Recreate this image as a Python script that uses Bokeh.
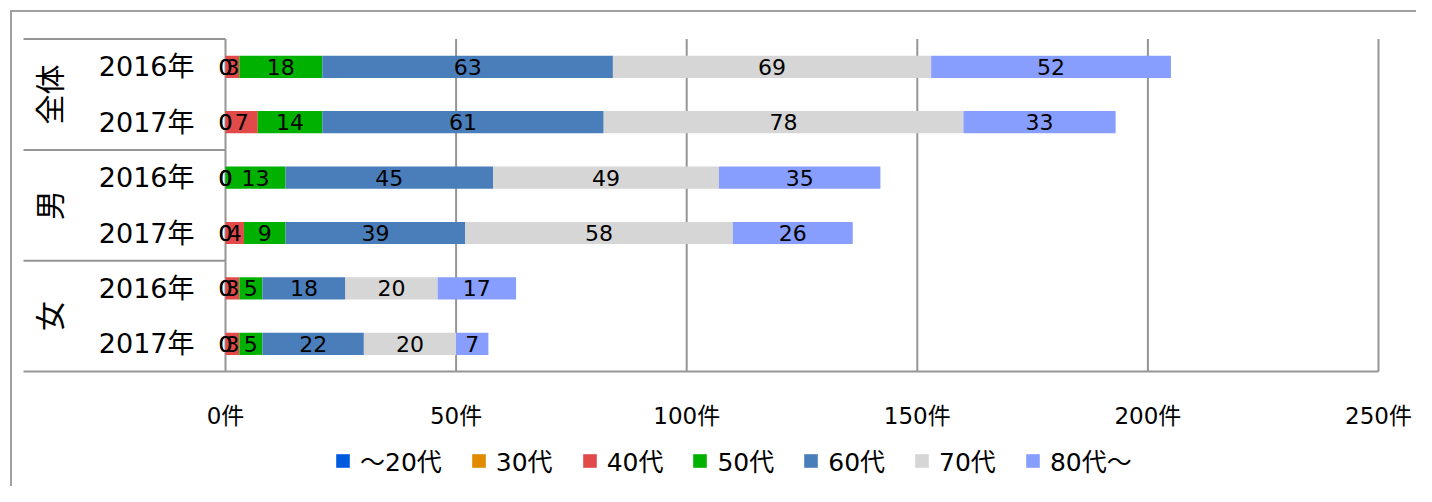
import numpy as np
from bokeh.plotting import figure
from bokeh.models import (ColumnDataSource, Range1d, LinearAxis, FixedTicker,
                          PrintfTickFormatter)
from bokeh.core.properties import value
from bokeh.embed import file_html
from bokeh.resources import INLINE

# ---------------- data ----------------
groups = ["全体", "男", "女"]
years = ["2016年", "2017年"]
ages = ["～20代", "30代", "40代", "50代", "60代", "70代", "80代～"]
# rows: 全体2016, 全体2017, 男2016, 男2017, 女2016, 女2017
age_u20 = [0, 0, 0, 0, 0, 0]
age_30 = [0, 0, 0, 0, 0, 0]
age_40 = [3, 7, 0, 4, 3, 3]
age_50 = [18, 14, 13, 9, 5, 5]
age_60 = [63, 61, 45, 39, 18, 22]
age_70 = [69, 78, 49, 58, 20, 20]
age_80 = [52, 33, 35, 26, 17, 7]
x_ticks = [0, 50, 100, 150, 200, 250]
tick_suffix = "件"

colors = ["#005AE0", "#E28A00", "#E24A4A", "#00B100", "#4A7EBB", "#D6D6D6", "#879EFF"]
FONT = "DejaVu Sans, Noto Sans CJK JP"
CJK = "Noto Sans CJK JP"
LINE = "#959595"

# ---------------- layout (pixels) ----------------
W, H = 1416, 486
X0, PXU = 225.0, 4.612      # canvas x of value 0, px per unit
Y0, PYU = 371.0, 55.4       # canvas y of bottom row edge, px per row


def dx(cx):
    return (cx - X0) / PXU


def dy(cy):
    return (Y0 - cy) / PYU


series = [age_u20, age_30, age_40, age_50, age_60, age_70, age_80]
n = len(age_40)
row_y = [n - 0.5 - i for i in range(n)]
row_group = [groups[i // len(years)] for i in range(n)]
row_year = [years[i % len(years)] for i in range(n)]

p = figure(width=W, height=H, output_backend="svg", toolbar_location=None,
           x_range=Range1d(dx(0), dx(W)), y_range=Range1d(dy(H), dy(0)),
           x_axis_type=None, y_axis_type=None, min_border=0,
           outline_line_color=None, background_fill_color="white",
           border_fill_color="white")
p.grid.visible = False

# outer chart border (left and top)
p.segment(x0=[dx(10.5), dx(9.5)], y0=[dy(9.5), dy(10.5)],
          x1=[dx(10.5), dx(W + 20)], y1=[dy(H + 20), dy(10.5)],
          line_color="#A0A0A0", line_width=2)

# gridlines
p.segment(x0=x_ticks, y0=[0] * len(x_ticks), x1=x_ticks, y1=[n] * len(x_ticks),
          line_color=LINE, line_width=2)

# category box lines
bounds = [n - len(years) * g for g in range(len(groups) + 1)]
p.segment(x0=[dx(23)] * len(bounds), y0=bounds,
          x1=[0] * (len(bounds) - 1) + [x_ticks[-1]], y1=bounds,
          line_color=LINE, line_width=2)

# stacked bars
keys = [f"s{i}" for i in range(len(series))]
src = ColumnDataSource(dict(y=row_y, **{k: s for k, s in zip(keys, series)}))
p.hbar_stack(keys, y="y", height=0.4, color=colors, line_color=None,
             source=src, legend_label=ages)

# value labels
vals = np.array(series, dtype=float)
cum = np.cumsum(vals, axis=0)
centers = cum - vals / 2
lx, ly, lt = [], [], []
for si in range(len(series)):
    for ri in range(n):
        lx.append(centers[si, ri])
        ly.append(row_y[ri])
        lt.append(str(series[si][ri]))
p.text(x="x", y="y", text="t", source=ColumnDataSource(dict(x=lx, y=ly, t=lt)),
       text_align="center", text_baseline="middle", text_font=value(FONT),
       text_font_size="22px", text_color="black")

# year labels
p.text(x=[0] * n, y=row_y, text=row_year, x_offset=-31,
       text_align="right", text_baseline="middle", text_font=value(FONT),
       text_font_size="27px", text_color="black")

# group labels (rotated)
gy = [float(np.mean([row_y[i] for i in range(n) if row_group[i] == g])) for g in groups]
p.text(x=[0] * len(groups), y=gy, text=groups, x_offset=-178, angle=np.pi / 2,
       text_align="center", text_baseline="middle", text_font=value(CJK),
       text_font_size="30px", text_color="black")

# x axis
xaxis = LinearAxis(fixed_location=0, ticker=FixedTicker(ticks=x_ticks),
                   formatter=PrintfTickFormatter(format="%d" + tick_suffix))
xaxis.axis_line_color = None
xaxis.major_tick_line_color = None
xaxis.minor_tick_line_color = None
xaxis.major_label_standoff = 25
xaxis.major_label_text_font = FONT
xaxis.major_label_text_font_size = "23px"
xaxis.major_label_text_color = "black"
p.add_layout(xaxis, "below")

# legend
lg = p.legend[0]
lg.orientation = "horizontal"
lg.location = (334, 8)
lg.padding = 0
lg.margin = 0
lg.spacing = 28
lg.label_standoff = 9
lg.glyph_width = 17
lg.glyph_height = 17
lg.label_height = 25
lg.label_text_font = FONT
lg.label_text_font_size = "25px"
lg.label_text_color = "black"
lg.border_line_color = None
lg.background_fill_alpha = 0

open("out.html", "w").write(file_html(p, INLINE))
